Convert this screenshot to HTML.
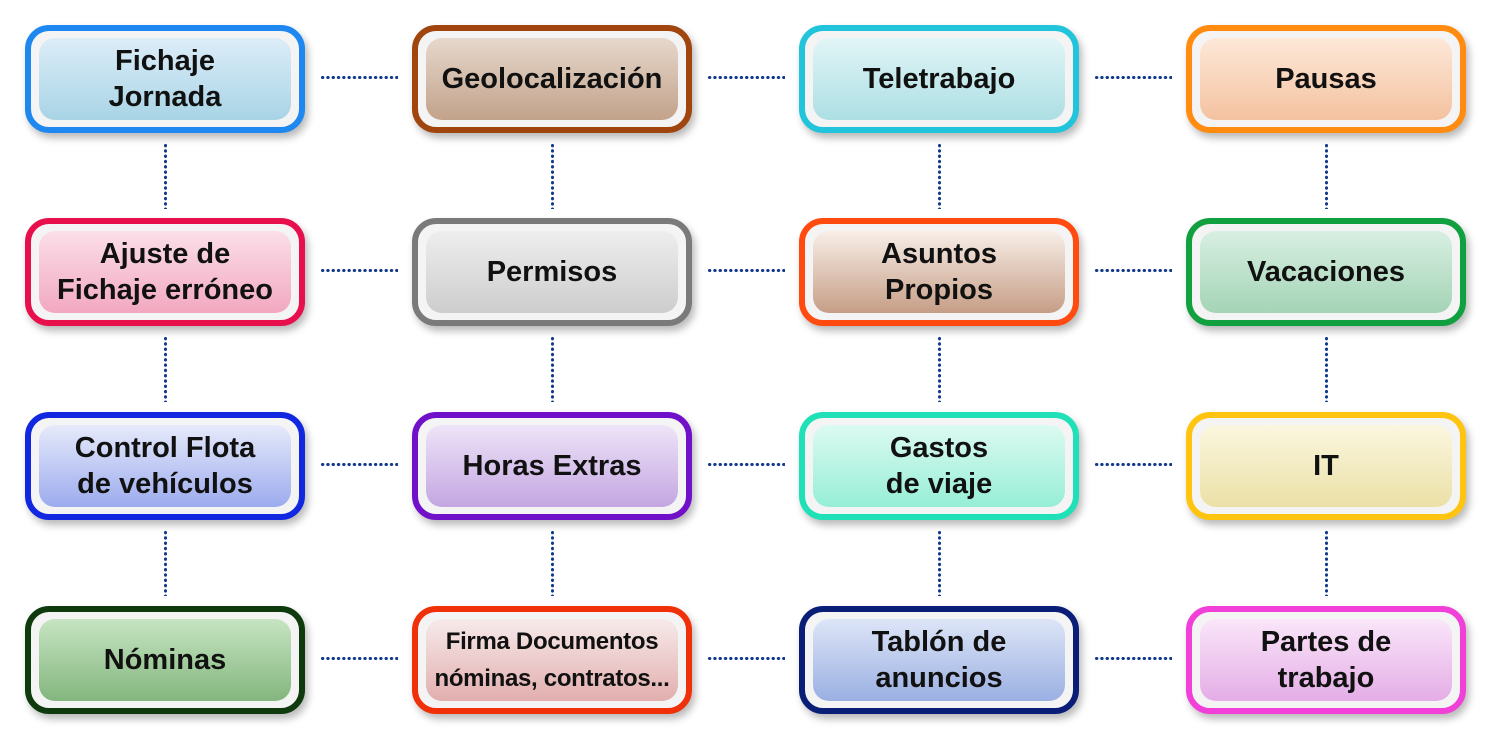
<!DOCTYPE html>
<html><head><meta charset="utf-8"><style>
html,body{margin:0;padding:0;background:#fff;}
body{width:1500px;height:748px;position:relative;overflow:hidden;font-family:"Liberation Sans",sans-serif;}
.b{position:absolute;width:268px;height:96px;border:6px solid;border-radius:24px;box-shadow:3px 5px 8px rgba(0,0,0,0.28);background:#f4f4f4;}
.i{position:absolute;left:8px;top:7px;right:8px;bottom:7px;border-radius:16px;display:flex;align-items:center;justify-content:center;text-align:center;font-weight:bold;font-size:29px;line-height:36px;color:#111;letter-spacing:0;}
.h{position:absolute;height:3px;width:78px;background:radial-gradient(circle,#123a8c 1.5px,transparent 1.8px) 0 0/5.3px 3px repeat-x;}
.v{position:absolute;width:3px;height:66px;background:radial-gradient(circle,#123a8c 1.5px,transparent 1.8px) 0 0/3px 5.3px repeat-y;}
</style></head><body>
<div id="c"></div>
<script>
var d=[
["Fichaje<br>Jornada","#1e88f0","#dcedf8","#a8d4e6"],
["Geolocalización","#a0450e","#e6d8cc","#c2a28a"],
["Teletrabajo","#22c4dc","#e2f5f7","#acdfe3"],
["Pausas","#ff8c10","#fde8d8","#f4c2a0"],
["Ajuste de<br>Fichaje erróneo","#e8104c","#fbdfe8","#f2a8c0"],
["Permisos","#7a7a7a","#eeeeee","#cdcdcd"],
["Asuntos<br>Propios","#ff4a10","#f8eee8","#c69e86"],
["Vacaciones","#10a040","#d8efe2","#a4d4b6"],
["Control Flota<br>de vehículos","#1228e0","#e6eafa","#9cabee"],
["Horas Extras","#7010c8","#eee4f7","#c4a6e2"],
["Gastos<br>de viaje","#20e0b8","#dcfaf1","#96eed6"],
["IT","#ffc410","#fbf7e0","#ebe0a6"],
["Nóminas","#0e3a0e","#c6e4c2","#84b67e"],
["<span style='font-size:24px;line-height:37px;letter-spacing:-0.3px'>Firma Documentos<br>nóminas, contratos...</span>","#f03008","#f7eaea","#e2aeae"],
["Tablón de<br>anuncios","#0a1e78","#dde5f7","#9ab0e2"],
["Partes de<br>trabajo","#f040d8","#fae6f9","#e4ade6"]];
var xs=[25,412,799,1186],ys=[25,218,412,606],h="";
for(var k=0;k<16;k++){var r=Math.floor(k/4),c=k%4,e=d[k];
h+="<div class='b' style='left:"+xs[c]+"px;top:"+ys[r]+"px;border-color:"+e[1]+"'><div class='i' style='background:linear-gradient("+e[2]+","+e[3]+")'>"+e[0]+"</div></div>";
if(c<3)h+="<div class='h' style='left:"+(xs[c]+295)+"px;top:"+(ys[r]+51)+"px'></div>";
if(r<3)h+="<div class='v' style='left:"+(xs[c]+139)+"px;top:"+(ys[r]+118)+"px'></div>";}
document.getElementById("c").innerHTML=h;
</script>
</body></html>
